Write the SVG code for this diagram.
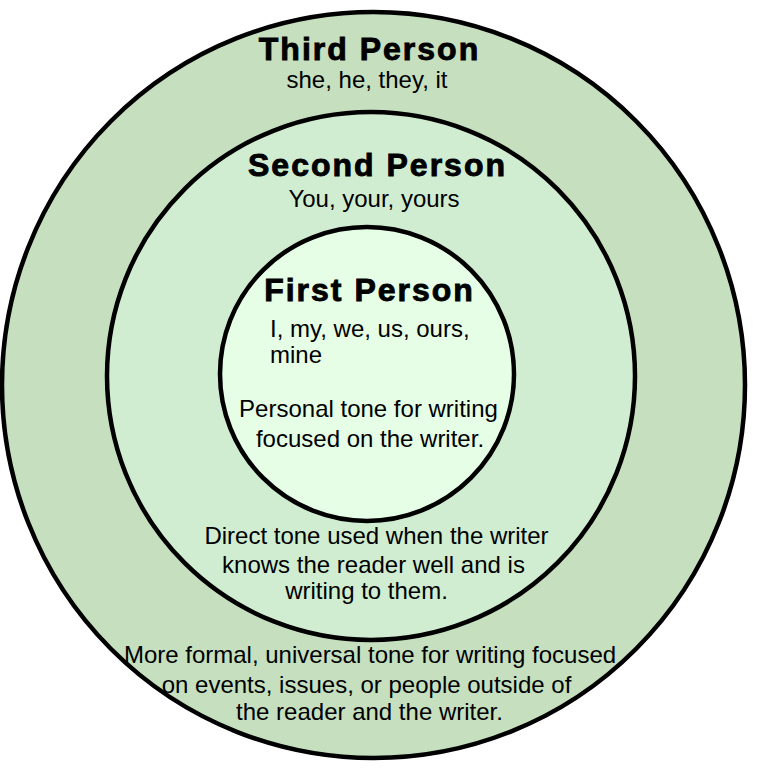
<svg xmlns="http://www.w3.org/2000/svg" width="782" height="782" viewBox="0 0 782 782">
<style>
.ring{stroke:#000;stroke-width:4.5}
.title{font-family:"Liberation Sans",Arial,sans-serif;font-weight:bold;font-size:32px;letter-spacing:2px;fill:#000;stroke:#000;stroke-width:0.9;text-anchor:middle}
.t{font-family:"Liberation Sans",Arial,sans-serif;font-size:24px;fill:#000;text-anchor:middle}
.l{font-family:"Liberation Sans",Arial,sans-serif;font-size:24px;fill:#000}
</style>
<rect width="782" height="782" fill="#fff"/>
<g id="third-person">
<ellipse class="ring" cx="373.5" cy="385" rx="371.5" ry="373" fill="#c5dfbf"/>
<text class="title" x="369.5" y="60">Third Person</text>
<text class="t" x="367" y="88">she, he, they, it</text>
<text class="t" x="370" y="663">More formal, universal tone for writing focused</text>
<text class="t" x="366.5" y="693">on events, issues, or people outside of</text>
<text class="t" x="369.5" y="720">the reader and the writer.</text>
</g>
<g id="second-person">
<circle class="ring" cx="371" cy="376" r="264" fill="#d1edd1"/>
<text class="title" x="377.5" y="176">Second Person</text>
<text class="t" x="374" y="207">You, your, yours</text>
<text class="t" x="376.5" y="544">Direct tone used when the writer</text>
<text class="t" x="373.5" y="573">knows the reader well and is</text>
<text class="t" x="366.5" y="599">writing to them.</text>
</g>
<g id="first-person">
<circle class="ring" cx="367" cy="374" r="147" fill="#e6fde6"/>
<text class="title" x="369.5" y="301">First Person</text>
<text class="l" x="270" y="337">I, my, we, us, ours,</text>
<text class="l" x="270" y="363">mine</text>
<text class="t" x="368.5" y="417">Personal tone for writing</text>
<text class="t" x="370" y="447">focused on the writer.</text>
</g>
</svg>
